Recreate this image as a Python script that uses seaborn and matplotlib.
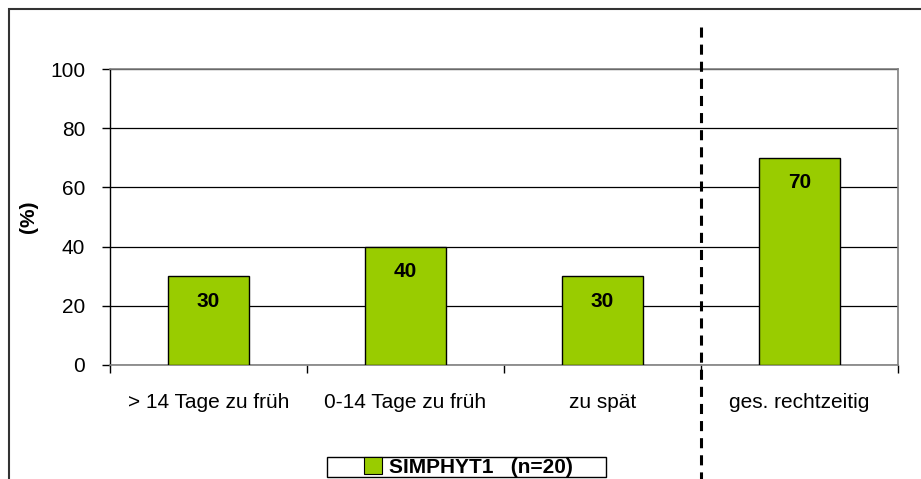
# Zeitpunkt der Verordnung - SIMPHYT1
import pandas as pd
import matplotlib.pyplot as plt
import seaborn as sns
from matplotlib.patches import Rectangle
from matplotlib.lines import Line2D
import matplotlib.transforms as mtransforms

categories = ["> 14 Tage zu früh", "0-14 Tage zu früh", "zu spät", "ges. rechtzeitig"]
values = [30, 40, 30, 70]
series_name = "SIMPHYT1   (n=20)"
yticks = [0, 20, 40, 60, 80, 100]

df = pd.DataFrame({"Kategorie": categories, "Prozent": values})

sns.set_style("white")
plt.rcParams['font.family'] = ['Liberation Sans', 'DejaVu Sans']
plt.rcParams['text.color'] = 'black'
plt.rcParams['axes.labelcolor'] = 'black'
plt.rcParams['xtick.color'] = 'black'
plt.rcParams['ytick.color'] = 'black'

fig = plt.figure(figsize=(9.21, 4.79), dpi=100)
ax = fig.add_axes([110 / 921, 1 - 365 / 479, 788 / 921, 296 / 479])

green = "#99CC00"
sns.barplot(data=df, x="Kategorie", y="Prozent", color=green, width=0.41,
            edgecolor="black", linewidth=1.0, saturation=1, ax=ax, zorder=3)

# value labels inside the bars near the top
for i, v in enumerate(values):
    ax.text(i, v - 8.5, str(v), ha="center", va="center", fontsize=15,
            fontweight="bold", zorder=4)

ax.set_ylim(0, 100)
ax.set_xlim(-0.5, len(categories) - 0.5)
ax.set_yticks(yticks)
ax.yaxis.grid(True, color="black", linewidth=0.9, zorder=0)
ax.set_axisbelow(True)

ax.set_xlabel("")
ax.set_ylabel("(%)", fontsize=15, fontweight="bold", va="center")
ax.yaxis.set_label_coords(-0.103, 0.5)
ax.tick_params(axis="y", labelsize=15, length=6, width=1,
               direction="out", left=True, pad=12)
ax.tick_params(axis="x", which="major", labelsize=15, length=0, pad=20)
ax.set_xticks([i - 0.5 for i in range(len(categories) + 1)], minor=True)
ax.tick_params(axis="x", which="minor", length=6, width=1,
               direction="out", bottom=True)

for side in ["top", "right", "bottom"]:
    ax.spines[side].set_color("#808080")
    ax.spines[side].set_linewidth(1.2)
ax.spines["left"].set_color("black")
ax.spines["left"].set_linewidth(1)

# dashed separator between the single categories and the total
trans = mtransforms.blended_transform_factory(ax.transData, ax.transAxes)
sep = Line2D([2.5, 2.5], [1.142, -0.42], transform=trans, color="black",
             linewidth=2.2, linestyle=(0, (3.3, 2.3)), clip_on=False, zorder=5)
ax.add_line(sep)

# legend with a wide box like the original
handle = Rectangle((0, 0), 1, 1, facecolor=green, edgecolor="black", linewidth=0.8)
fig.legend([handle], [series_name], loc="center",
           bbox_to_anchor=(468 / 921, 1 - 467 / 479),
           frameon=False, prop={"size": 15, "weight": "bold"},
           handlelength=0.9, handleheight=0.9, handletextpad=0.3,
           borderpad=0, borderaxespad=0)
fig.patches.append(Rectangle((327 / 921, 1 - 477 / 479), 279 / 921, 20 / 479,
                             transform=fig.transFigure, fill=False,
                             edgecolor="black", linewidth=1))

# outer chart border
fig.patches.append(Rectangle((9 / 921, -0.05), 1.05, 1 - 9 / 479 + 0.05,
                             transform=fig.transFigure, fill=False,
                             edgecolor="#333333", linewidth=1.5))

fig.savefig("out.png", dpi=100)
